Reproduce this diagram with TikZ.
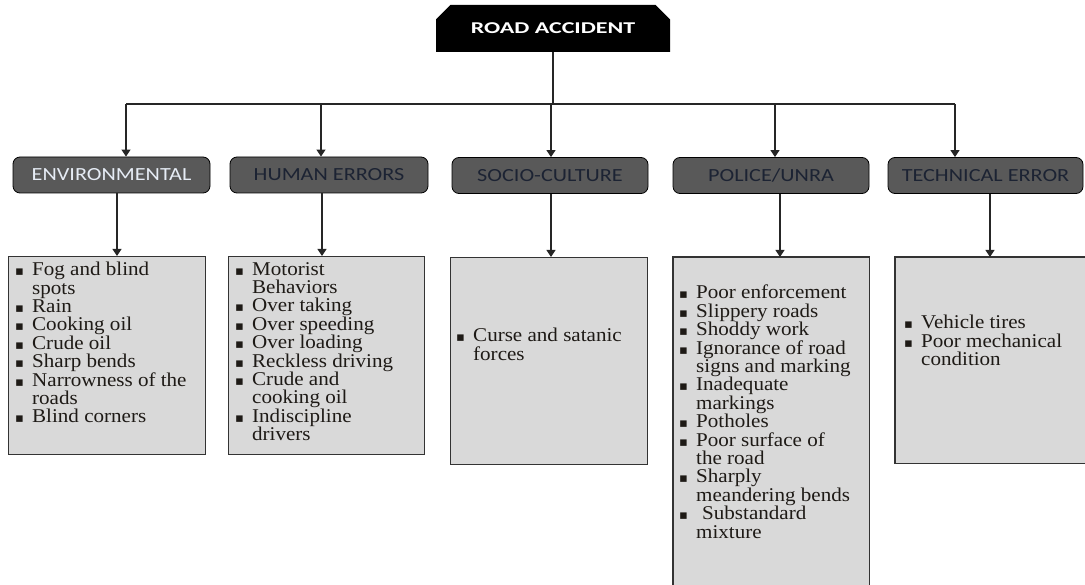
\documentclass[tikz,border=0pt]{standalone}
\usepackage{fontspec}
\usetikzlibrary{arrows.meta,shapes.misc}
\newfontfamily\hdrfont[FakeStretch=1.2]{Carlito}
\newfontfamily\rootfont[FakeStretch=1.45]{Carlito}
\newfontfamily\boxfont[FakeStretch=1.08]{Liberation Serif}
\newfontfamily\symfont{DejaVu Sans}
\definecolor{hdrfill}{HTML}{595959}
\definecolor{boxfill}{HTML}{D9D9D9}
\definecolor{hdrtext}{HTML}{1C2333}
\definecolor{envtext}{HTML}{E6ECF5}
\definecolor{bodytext}{HTML}{1E1A16}
\newcommand\bul{\makebox[17pt][l]{{\symfont\fontsize{13}{13}\selectfont ▪}}}
\newcommand\cnt{\hspace*{17pt}}
\begin{document}
\begin{tikzpicture}[x=1pt,y=-1pt,
  hdr/.style={draw=black, line width=0.8pt, fill=hdrfill, rounded corners=7pt,
    minimum width=#1, minimum height=36pt, inner sep=0pt,
    font=\hdrfont\fontsize{18.5}{20}\selectfont, text=hdrtext},
  bx/.style={fill=boxfill, anchor=north west, inner sep=0pt, minimum width=#1},
  bxline/.style={draw=black!80, line width=1.2pt},
  txt/.style={anchor=north west, inner sep=0pt, align=left,
    font=\boxfont\fontsize{19.5}{18.4}\selectfont, text=bodytext},
  conn/.style={draw=black!85, line width=1.2pt},
  arr/.style={conn, -{Triangle[length=7pt,width=9pt]}}]
\useasboundingbox (0,0) rectangle (1085,585);

% root
\node[chamfered rectangle, chamfered rectangle corners={north west,north east},
  chamfered rectangle xsep=9pt, chamfered rectangle ysep=9pt,
  fill=black, minimum width=234pt, minimum height=47pt, inner sep=0pt,
  text=white, font=\rootfont\bfseries\fontsize{16.5}{18}\selectfont]
  (root) at (553,28.5) {ROAD ACCIDENT};

% headers
\node[hdr=197pt, text=envtext] (envh) at (111.5,175) {ENVIRONMENTAL};
\node[hdr=198pt] (humh) at (329,175) {HUMAN ERRORS};
\node[hdr=196pt] (soch) at (550,175.5) {SOCIO-CULTURE};
\node[hdr=196pt] (polh) at (771,175.5) {POLICE/UNRA};
\node[hdr=195pt] (tech) at (985.5,175.5) {TECHNICAL ERROR};

% boxes
\node[bx=197pt, minimum height=198pt, bxline] (envb) at (8,256) {};
\node[bx=196pt, minimum height=198pt, bxline] (humb) at (228,256) {};
\node[bx=197pt, minimum height=207pt, bxline] (socb) at (450,257) {};
\node[bx=196pt, minimum height=330pt] (polb) at (673,257) {};
\draw[bxline] (polb.south west) -- (polb.north west) -- (polb.north east) -- (polb.south east);
\node[bx=192pt, minimum height=206pt] (tecb) at (895,257) {};
\draw[bxline] (tecb.north east) -- (tecb.north west) -- (tecb.south west) -- (tecb.south east);

% connectors
\coordinate (jr) at (553,104);
\coordinate (j1) at (126,104);
\coordinate (j2) at (321,104);
\coordinate (j3) at (551,104);
\coordinate (j4) at (775,104);
\coordinate (j5) at (955,104);
\draw[conn] (root.south) -- (jr);
\draw[conn] (j1) -- (j5);
\draw[arr] (j1) -- (j1 |- envh.north);
\draw[arr] (j2) -- (j2 |- humh.north);
\draw[arr] (j3) -- (j3 |- soch.north);
\draw[arr] (j4) -- (j4 |- polh.north);
\draw[arr] (j5) -- (j5 |- tech.north);

\coordinate (k1) at (117,0);
\coordinate (k2) at (322,0);
\coordinate (k3) at (551,0);
\coordinate (k4) at (780,0);
\coordinate (k5) at (990,0);
\draw[arr] (k1 |- envh.south) -- (k1 |- envb.north);
\draw[arr] (k2 |- humh.south) -- (k2 |- humb.north);
\draw[arr] (k3 |- soch.south) -- (k3 |- socb.north);
\draw[arr] (k4 |- polh.south) -- (k4 |- polb.north);
\draw[arr] (k5 |- tech.south) -- (k5 |- tecb.north);

% texts
\node[txt] (envt) at (15,262) {\bul Fog and blind\\ \cnt spots\\ \bul Rain\\ \bul Cooking oil\\ \bul Crude oil\\ \bul Sharp bends\\ \bul Narrowness of the\\ \cnt roads\\ \bul Blind corners};
\node[txt] (humt) at (235,262) {\bul Motorist\\ \cnt Behaviors\\ \bul Over taking\\ \bul Over speeding\\ \bul Over loading\\ \bul Reckless driving\\ \bul Crude and\\ \cnt cooking oil\\ \bul Indiscipline\\ \cnt drivers};
\node[txt] (soct) at (456,328) {\bul Curse and satanic\\ \cnt forces};
\node[txt] (polt) at (679,285) {\bul Poor enforcement\\ \bul Slippery roads\\ \bul Shoddy work\\ \bul Ignorance of road\\ \cnt signs and marking\\ \bul Inadequate\\ \cnt markings\\ \bul Potholes\\ \bul Poor surface of\\ \cnt the road\\ \bul Sharply\\ \cnt meandering bends\\ \bul\hspace{6pt}Substandard\\ \cnt mixture};
\node[txt] (tect) at (904,315) {\bul Vehicle tires\\ \bul Poor mechanical\\ \cnt condition};
\end{tikzpicture}
\end{document}
